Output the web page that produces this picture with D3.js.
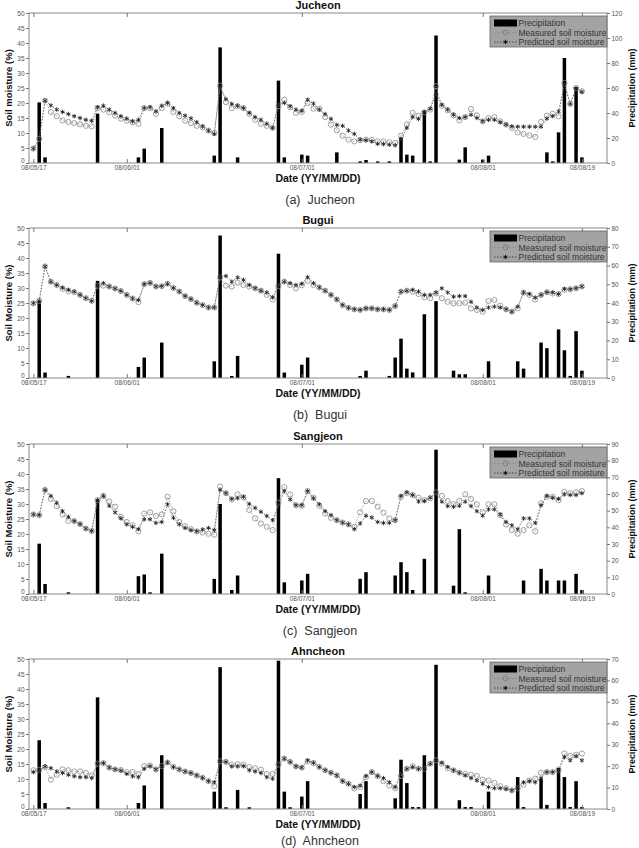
<!DOCTYPE html>
<html>
<head>
<meta charset="utf-8">
<script src="https://cdn.jsdelivr.net/npm/d3@7"></script>
<style>
  body { margin: 0; background: #fff; }
  text { font-family: "Liberation Sans", Arial, sans-serif; }
</style>
</head>
<body>
<svg id="chart" width="639" height="848"></svg>
<script>
// Day index 0 = first observation (08/05/17), daily values
var tickDays = [0, 16, 46, 77, 94];
var tickLabels = ['08/05/17', '08/06/01', '08/07/01', '08/08/01', '08/08/19'];

// Jucheon
var jucheonMeasured = [4.8, 8, 20.8, 17, 15.6, 14.2, 13.7, 13.3, 12.9, 12.4, 12.2,
  18.3, 17.8, 16.9, 15.8, 14.8, 14.1, 13.6, 13.1, 18.3, 18.3,
  16.4, 18.3, 19.8, 17, 15.6, 14.1, 13.3, 12.4, 11.9, 10.8,
  10, 25.8, 20.3, 18.3, 18.9, 18.3, 16.4, 14.4, 13.1, 12.4,
  11.7, 18.9, 21.1, 18.6, 16.7, 17, 20, 18.1, 18.1, 15.3,
  12.8, 10.9, 9.1, 7.8, 7.2, 7.6, 7.8, 7.7, 7.2, 7.2,
  6.9, 6.7, 9.1, 12.8, 16.7, 15.8, 16.9, 17.8, 25.6, 19.1,
  17.6, 15.9, 14.2, 15.3, 18, 15.9, 13.9, 15, 15.3, 13.9,
  12.8, 11.7, 10.2, 9.7, 9.2, 8.7, 13.7, 15.8, 16.4, 15.6,
  26.7, 19.7, 25, 23.9];
var jucheonPredicted = [4.8, 8, 20.8, 19.2, 17.8, 17, 16.3, 15.6, 15, 14.4, 14.1,
  18.6, 19.1, 17.8, 16.7, 15.6, 14.8, 13.9, 14.4, 18.3, 18.6,
  17.2, 19.1, 20, 18.3, 16.7, 15.8, 14.9, 13.6, 12.2, 10.8,
  9.7, 25.3, 21.3, 19.7, 19.1, 18.3, 16.7, 15.3, 14.4, 13.1,
  11.7, 19.7, 20, 18.9, 17.8, 17.4, 21.1, 19.8, 17.8, 16.3,
  14.7, 12.7, 12.4, 10.8, 9.7, 7.8, 7.6, 7.2, 6.4, 6.3,
  6.1, 5.9, 8, 11.7, 15.3, 14.7, 16.9, 18.1, 23, 19.4,
  17.8, 16.1, 15, 15.3, 16.1, 15, 13.9, 14.4, 14.4, 13.6,
  12.8, 12.2, 12.1, 12.1, 12.1, 12.1, 12.1, 14.8, 15.6, 17.2,
  26.1, 19.7, 24.8, 23.7];
var jucheonRainDays = [1, 2, 11, 18, 19, 22, 31, 32, 35, 42, 43, 46, 47, 52, 56, 57, 59, 61, 63, 64,
  65, 67, 68, 69, 73, 74, 77, 78, 88, 89, 90, 91, 93, 94];
var jucheonRainMm = [48.5, 4.5, 39.5, 4.5, 11.5, 28, 5.9, 92.5, 4.5, 65.9, 4.5, 6.7, 5.9, 8.5, 1.3, 2.4, 1.3, 1.3, 20.5, 6.7,
  5.9, 41.9, 1.3, 102, 2.7, 12.5, 2.7, 5.9, 8.5, 1.3, 24.5, 84, 60.8, 4.5];

// Bugui
var buguiMeasured = [24.9, 25.7, 37.2, 32.1, 31, 29.7, 28.9, 28.6, 27.7, 26.6, 25.7,
  30.7, 30.8, 30.5, 29.8, 29, 27.7, 26.5, 25.3, 31.3, 31.7,
  30.5, 30.6, 31.4, 30, 28.8, 27.3, 26.3, 25.1, 24.3, 23.5,
  23.5, 33.5, 30.8, 30.5, 31.8, 31, 30.5, 29.9, 29.1, 27.7,
  26.2, 30.5, 32.1, 31, 29.9, 30.9, 32.4, 31, 30.2, 29.1,
  27.7, 26.2, 24.3, 23.4, 22.9, 22.7, 23.2, 23.2, 22.9, 22.9,
  22.7, 24, 28.8, 29.1, 28.8, 28, 26.9, 26.6, 28.2, 26.6,
  25.4, 24.9, 24.9, 25.1, 23.2, 22.7, 22.1, 25.7, 26, 24.1,
  22.9, 22.1, 23.2, 28.5, 27.7, 26.2, 27.7, 28.6, 28.2, 28,
  29.4, 29.6, 29.9, 30.5];
var buguiPredicted = [24.9, 25.7, 37.2, 32.1, 31, 30.1, 29.4, 28.8, 27.7, 26.6, 25.7,
  31, 31.6, 30.5, 29.8, 29, 27.7, 26.5, 26, 31.3, 31.7,
  30.5, 30.6, 31.4, 30, 28.8, 27.3, 26.3, 25.1, 24.3, 23.5,
  23.5, 34, 34, 32.1, 33.5, 32.7, 31, 29.9, 29.1, 28.5,
  26.9, 31, 32.1, 31.6, 31, 31.4, 33.6, 31.6, 30.2, 29.1,
  27.7, 26.2, 24.3, 23.4, 22.9, 22.7, 23.2, 23.2, 22.9, 22.9,
  22.7, 24, 28.8, 29.1, 29.4, 28.8, 27.7, 27.7, 28.5, 29.9,
  28.5, 27.1, 27.3, 27.3, 25.4, 23.5, 22.7, 23.5, 23.8, 23.5,
  22.9, 22.1, 23.8, 28.5, 28, 26.8, 27.7, 28.6, 28.5, 28,
  29.7, 29.6, 29.9, 30.5];
var buguiRainDays = [1, 2, 6, 11, 18, 19, 22, 31, 32, 34, 35, 42, 43, 46, 47, 56, 57, 61, 62, 63,
  64, 65, 67, 69, 72, 73, 74, 78, 83, 84, 87, 88, 90, 91, 92, 93, 94];
var buguiRainMm = [41, 2.9, 1.1, 51.8, 5.9, 10.9, 18.9, 8.9, 76, 1.1, 11.8, 66.3, 2.9, 7.1, 10.9, 1.1, 3.9, 1.1, 10.9, 21,
  5, 3, 34, 41, 3.9, 2, 2, 8.9, 8.9, 5, 18.9, 15.9, 25.9, 14.8, 1.1, 25, 3.9];

// Sangjeon
var sangjeonMeasured = [26.5, 26.3, 34.7, 31.7, 29.3, 26.5, 24.4, 24.3, 23.3, 21.8, 21,
  31.3, 32.7, 30.8, 29.1, 25.7, 24, 22.9, 20.9, 26.8, 27.2,
  26, 26.5, 32.4, 27.6, 24, 22.6, 21.6, 20.9, 20.5, 20.1,
  19.8, 35.8, 33.6, 31.5, 33.2, 32.2, 28, 25.2, 23.5, 22.4,
  21.3, 30.5, 35.6, 33.2, 29.6, 29.4, 34.3, 32.1, 29.4, 26.8,
  25.4, 24.6, 23.8, 23.2, 22.4, 27.2, 31, 31, 29.1, 27.1,
  25.2, 24.6, 32.4, 33.6, 33, 32.1, 31.3, 31.9, 33.9, 32.7,
  31, 30, 31, 33.2, 31.7, 29.9, 27.2, 29.9, 29.9, 26.3,
  23.2, 21.3, 20.1, 21.3, 22.9, 20.9, 30.2, 32.4, 32.4, 31.3,
  34.1, 33.6, 33.9, 34.3];
var sangjeonPredicted = [26.5, 26.3, 34.7, 32.7, 30.4, 27.6, 25.7, 24.3, 23.3, 21.8, 21,
  31.3, 32.7, 29.4, 27.2, 25.2, 23.2, 22.4, 21.6, 24.9, 24.9,
  23.7, 24, 29.9, 25.4, 23.2, 22, 21.3, 20.9, 21.5, 22,
  21.3, 34.7, 33.6, 31.7, 31.9, 32.4, 30, 28.7, 27.4, 26,
  24.6, 29.6, 34.3, 31.5, 29.6, 29.6, 34.3, 31.9, 29.9, 27.6,
  26.3, 24.6, 23.8, 23.2, 21.6, 23.5, 26.1, 25.5, 24, 23.7,
  23.7, 24.6, 32.7, 33.9, 33, 30.8, 31, 32.1, 33.6, 30.8,
  29.3, 29.1, 29.4, 30.8, 29.3, 27.6, 26.1, 28.2, 28.2, 26.5,
  24, 22.9, 21.6, 25.2, 25.2, 23.7, 29.6, 32.7, 32.1, 31.7,
  33.2, 33, 33, 33.6];
var sangjeonRainDays = [1, 2, 6, 11, 18, 19, 20, 22, 31, 32, 34, 35, 42, 43, 46, 47, 56, 57, 62, 63,
  64, 65, 67, 69, 72, 73, 74, 78, 84, 87, 88, 90, 91, 93, 94];
var sangjeonRainMm = [30.2, 6, 1, 56.4, 10.7, 11.7, 1, 24.2, 9.1, 54, 2.4, 11.1, 69.5, 7, 8.1, 12.1, 9.1, 13.1, 11.1, 19.1,
  13.1, 2.4, 21.1, 86.6, 5, 38.9, 1, 11.1, 8.1, 15.1, 8.1, 8.1, 8.1, 12.1, 2.4];

// Ahncheon
var ahncheonMeasured = [12.9, 13.1, 14, 9.8, 11.4, 13.2, 12.9, 12.5, 12.5, 12, 11.2,
  15.1, 15.3, 13.8, 13.2, 13, 12.3, 12.3, 11.7, 14.3, 14.5,
  13.2, 14.3, 15.5, 14, 13.2, 12.5, 12, 11.2, 10.4, 9.3,
  7.6, 15.9, 15.7, 14.8, 14.9, 14.8, 14, 13.6, 13.1, 11.7,
  11.7, 14.8, 16.8, 15.7, 14.2, 13.8, 15.9, 15.3, 14, 12.9,
  12.1, 11.2, 9.3, 8.4, 6.9, 7.3, 10.6, 12.3, 11, 9.3,
  7.8, 6.9, 11, 13.4, 14.2, 13.4, 13.4, 15.1, 16.2, 15.1,
  13.6, 12.9, 12.1, 11.7, 11.4, 11, 9.8, 9.5, 8.7, 7.6,
  6.9, 6.2, 6.9, 8.1, 9.5, 10.1, 12.1, 12.3, 12.3, 13.1,
  18.5, 17.7, 18.1, 18.5];
var ahncheonPredicted = [12.3, 12.9, 14.2, 13.6, 12.5, 12, 11.4, 10.9, 10.6, 10.6, 10.3,
  15.1, 15.3, 13.8, 13.2, 12.8, 11.7, 10.9, 10.6, 13.4, 14.3,
  13.2, 14.3, 15.5, 14, 13.2, 12.5, 12, 11.2, 10.4, 9.3,
  8.9, 15.9, 15.7, 14.2, 14.2, 14.3, 12.9, 12.5, 12, 10.6,
  10.1, 15.1, 16.8, 15.7, 14.2, 13.8, 16.2, 15.4, 14, 12.9,
  12.1, 11.2, 9.3, 8.4, 7.3, 7.8, 11, 12.3, 11, 10.3,
  8.9, 7.3, 12.1, 13.4, 14, 13.4, 14, 15.1, 16.2, 15.4,
  14, 12.9, 12.1, 11.2, 10.3, 9.5, 8.4, 7.3, 6.9, 6.9,
  6.7, 6.2, 7.3, 8.9, 9.3, 8.9, 10.3, 12.3, 12.3, 12.9,
  17.3, 16.2, 17.6, 16.2];
var ahncheonRainDays = [1, 2, 6, 11, 18, 19, 22, 31, 32, 33, 35, 37, 42, 43, 44, 46, 47, 56, 57, 62,
  63, 64, 65, 66, 67, 69, 73, 74, 75, 78, 83, 84, 87, 88, 90, 91, 92, 93, 94];
var ahncheonRainMm = [32.1, 2.8, 0.8, 52.1, 2.8, 11, 25.1, 8.1, 66.2, 0.8, 8.9, 0.8, 69.2, 8.1, 0.8, 5.8, 13, 7, 13, 5,
  23, 12.1, 0.9, 0.9, 25.1, 67.3, 4.1, 0.9, 0.9, 8.1, 14.9, 0.9, 14.1, 1.9, 19.1, 14.9, 0.9, 13, 0.9];

var panels = [
  {title: 'Jucheon', caption: '(a)  Jucheon', yLabel: 'Soil moisture (%)', rainMax: 120, rainStep: 20,
    measured: jucheonMeasured, predicted: jucheonPredicted, rainDays: jucheonRainDays, rainMm: jucheonRainMm},
  {title: 'Bugui', caption: '(b)  Bugui', yLabel: 'Soil Moisture (%)', rainMax: 80, rainStep: 10,
    measured: buguiMeasured, predicted: buguiPredicted, rainDays: buguiRainDays, rainMm: buguiRainMm},
  {title: 'Sangjeon', caption: '(c)  Sangjeon', yLabel: 'Soil Moisture (%)', rainMax: 90, rainStep: 10,
    measured: sangjeonMeasured, predicted: sangjeonPredicted, rainDays: sangjeonRainDays, rainMm: sangjeonRainMm},
  {title: 'Ahncheon', caption: '(d)  Ahncheon', yLabel: 'Soil Moisture (%)', rainMax: 70, rainStep: 10,
    measured: ahncheonMeasured, predicted: ahncheonPredicted, rainDays: ahncheonRainDays, rainMm: ahncheonRainMm}
];

var panelTops = [13, 228, 444, 659];
var plotH = 150;
var left = 29, right = 607;

var svg = d3.select('#chart');

var x = d3.scaleLinear().domain([-0.75, 98.3]).range([left, right]);

function drawPanel(p, top) {
  var bottom = top + plotH;
  var g = svg.append('g').attr('class', 'panel');
  var y = d3.scaleLinear().domain([0, 50]).range([bottom, top]);
  var yr = d3.scaleLinear().domain([0, p.rainMax]).range([bottom, top]);

  // precipitation bars (right axis)
  var rain = p.rainDays.map(function (d, i) { return {day: d, mm: p.rainMm[i]}; });
  g.selectAll('rect.bar').data(rain).enter().append('rect')
    .attr('class', 'bar')
    .attr('x', function (d) { return x(d.day) - 1.75; })
    .attr('width', 3.5)
    .attr('y', function (d) { return yr(d.mm); })
    .attr('height', function (d) { return bottom - yr(d.mm); })
    .attr('fill', '#000');

  var line = d3.line()
    .x(function (d, i) { return x(i); })
    .y(function (d) { return y(d); });

  g.append('path').datum(p.measured)
    .attr('d', line).attr('fill', 'none')
    .attr('stroke', '#9a9a9a').attr('stroke-width', 0.8)
    .attr('stroke-dasharray', '1.5,1.5');
  g.append('path').datum(p.predicted)
    .attr('d', line).attr('fill', 'none')
    .attr('stroke', '#555').attr('stroke-width', 0.8)
    .attr('stroke-dasharray', '1.5,1.5');

  g.selectAll('circle.meas').data(p.measured).enter().append('circle')
    .attr('class', 'meas')
    .attr('cx', function (d, i) { return x(i); })
    .attr('cy', function (d) { return y(d); })
    .attr('r', 2.6)
    .attr('fill', 'none').attr('stroke', '#8a8a8a').attr('stroke-width', 0.8);

  var star = d3.symbol().type(d3.symbolAsterisk).size(14);
  g.selectAll('path.pred').data(p.predicted).enter().append('path')
    .attr('class', 'pred')
    .attr('d', star)
    .attr('transform', function (d, i) { return 'translate(' + x(i) + ',' + y(d) + ')'; })
    .attr('fill', 'none').attr('stroke', '#222').attr('stroke-width', 0.9);

  // axes box
  g.append('rect')
    .attr('x', left).attr('y', top).attr('width', right - left).attr('height', plotH)
    .attr('fill', 'none').attr('stroke', '#888').attr('stroke-width', 1);

  // left axis
  var yAxis = d3.axisLeft(y).tickValues(d3.range(0, 51, 5)).tickSize(3).tickPadding(1.5);
  var ga = g.append('g').attr('transform', 'translate(' + left + ',0)').call(yAxis);
  // right axis
  var yrAxis = d3.axisRight(yr).tickValues(d3.range(0, p.rainMax + 1, p.rainStep)).tickSize(3).tickPadding(1.5);
  var gr = g.append('g').attr('transform', 'translate(' + right + ',0)').call(yrAxis);
  // bottom axis, ticks inward
  var xAxis = d3.axisBottom(x).tickValues(tickDays)
    .tickFormat(function (d, i) { return tickLabels[i]; })
    .tickSize(-4).tickPadding(2.5);
  var gx = g.append('g').attr('transform', 'translate(0,' + bottom + ')').call(xAxis);
  // top ticks, inward
  var gt = g.append('g').attr('transform', 'translate(0,' + top + ')')
    .call(d3.axisTop(x).tickValues(tickDays).tickSize(-4).tickFormat(''));

  [ga, gr, gx, gt].forEach(function (a) {
    a.select('.domain').remove();
    a.selectAll('.tick line').attr('stroke', '#777');
    a.selectAll('.tick text').attr('fill', '#555').attr('font-size', 6.5)
      .style('font-family', '"Liberation Sans", Arial, sans-serif');
  });
  // the "0" of the left axis sits a little above the corner, clear of the date label
  ga.selectAll('.tick text').filter(function (d) { return d === 0; }).attr('dy', '-0.05em');

  // title
  g.append('text').attr('x', (left + right) / 2).attr('y', top - 4.5)
    .attr('text-anchor', 'middle').attr('font-size', 11).attr('font-weight', 'bold')
    .attr('fill', '#111').text(p.title);
  // x label
  g.append('text').attr('x', 318).attr('y', bottom + 18.5)
    .attr('text-anchor', 'middle').attr('font-size', 10.5).attr('font-weight', 'bold')
    .attr('fill', '#111').text('Date (YY/MM/DD)');
  // y labels
  g.append('text')
    .attr('transform', 'translate(11.5,' + (top + plotH / 2) + ') rotate(-90)')
    .attr('text-anchor', 'middle').attr('font-size', 9.5).attr('font-weight', 'bold')
    .attr('fill', '#111').text(p.yLabel);
  g.append('text')
    .attr('transform', 'translate(635,' + (top + plotH / 2) + ') rotate(-90)')
    .attr('text-anchor', 'middle').attr('font-size', 9).attr('font-weight', 'bold')
    .attr('fill', '#111').text('Precipitation (mm)');
  // caption
  g.append('text').attr('x', 320).attr('y', Math.min(bottom + 41, 845))
    .attr('text-anchor', 'middle').attr('font-size', 12.5)
    .attr('fill', '#333').attr('xml:space', 'preserve').style('white-space', 'pre')
    .text(p.caption);

  // legend
  var lg = g.append('g').attr('transform', 'translate(490,' + (top + 3) + ')');
  lg.append('rect').attr('width', right - 490).attr('height', 31)
    .attr('fill', '#a3a3a3').attr('stroke', '#666').attr('stroke-width', 0.8);
  lg.append('rect').attr('x', 4).attr('y', 3.5).attr('width', 23).attr('height', 7).attr('fill', '#000');
  lg.append('line').attr('x1', 4).attr('x2', 27).attr('y1', 16.5).attr('y2', 16.5)
    .attr('stroke', '#888').attr('stroke-width', 0.8).attr('stroke-dasharray', '1.5,1.5');
  lg.append('circle').attr('cx', 15.5).attr('cy', 16.5).attr('r', 2.4)
    .attr('fill', 'none').attr('stroke', '#777').attr('stroke-width', 0.8);
  lg.append('line').attr('x1', 4).attr('x2', 27).attr('y1', 26).attr('y2', 26)
    .attr('stroke', '#333').attr('stroke-width', 0.8).attr('stroke-dasharray', '1.5,1.5');
  lg.append('path').attr('d', star).attr('transform', 'translate(15.5,26)')
    .attr('fill', 'none').attr('stroke', '#111').attr('stroke-width', 0.9);
  var legendText = ['Precipitation', 'Measured soil moisture', 'Predicted soil moisture'];
  lg.selectAll('text.lt').data(legendText).enter().append('text')
    .attr('class', 'lt')
    .attr('x', 28.5)
    .attr('y', function (d, i) { return 10 + i * 9.6; })
    .attr('font-size', 8.5).attr('fill', '#333')
    .text(function (d) { return d; });
}

panels.forEach(function (p, i) { drawPanel(p, panelTops[i]); });
</script>
</body>
</html>
